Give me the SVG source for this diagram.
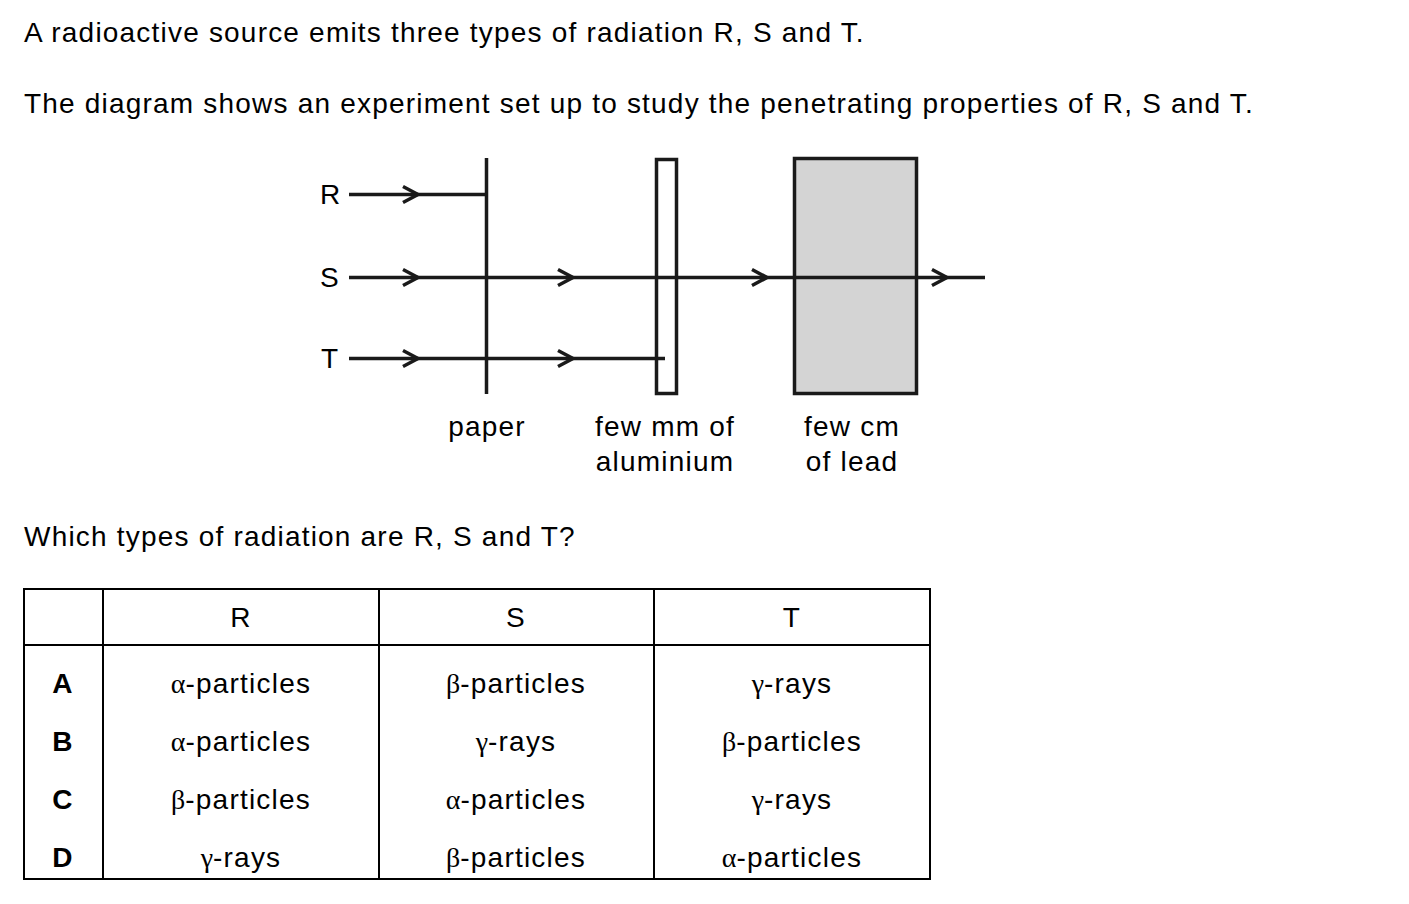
<svg xmlns="http://www.w3.org/2000/svg" width="1409" height="904" viewBox="0 0 1409 904">
<style>
text{font-family:"Liberation Sans",Arial,sans-serif;font-size:28px;fill:#000;letter-spacing:1.2px}
.c{text-anchor:middle}
.b{font-weight:bold}
.g{font-family:"Liberation Serif","Times New Roman",serif;letter-spacing:0}
.ln{stroke:#1a1a1a;stroke-width:3.5;fill:none}
.ch{stroke:#1a1a1a;stroke-width:3.5;fill:none;stroke-linejoin:miter}
.tb{stroke:#000;stroke-width:2;fill:none}
</style>
<rect width="1409" height="904" fill="#fff"/>
<g id="text-top">
<text x="24" y="42">A radioactive source emits three types of radiation R, S and T.</text>
<text x="24" y="113">The diagram shows an experiment set up to study the penetrating properties of R, S and T.</text>
<text x="24" y="546">Which types of radiation are R, S and T?</text>
</g>
<g id="labels-rst">
<text x="320" y="204">R</text>
<text x="320" y="287">S</text>
<text x="321" y="368">T</text>
</g>
<g id="paper">
<line class="ln" x1="486.5" y1="158" x2="486.5" y2="394"/>
<text class="c" x="487" y="436">paper</text>
</g>
<g id="aluminium">
<rect class="ln" x="656.5" y="159.5" width="20" height="234"/>
<text class="c" x="665" y="436">few mm of</text>
<text class="c" x="665" y="471">aluminium</text>
</g>
<g id="lead">
<rect x="794.5" y="158.5" width="122" height="235" fill="#d4d4d4" stroke="#1a1a1a" stroke-width="3.5"/>
<text class="c" x="852" y="436">few cm</text>
<text class="c" x="852" y="471">of lead</text>
</g>
<g id="connectors">
<line class="ln" x1="349" y1="194.5" x2="486" y2="194.5"/>
<line class="ln" x1="349" y1="277.5" x2="985" y2="277.5"/>
<line class="ln" x1="349" y1="358.5" x2="665" y2="358.5"/>
<path class="ch" d="M403 186.5 L418 194.5 L403 202.5"/>
<path class="ch" d="M403 269.5 L418 277.5 L403 285.5"/>
<path class="ch" d="M558 269.5 L573 277.5 L558 285.5"/>
<path class="ch" d="M752 269.5 L767 277.5 L752 285.5"/>
<path class="ch" d="M932 269.5 L947 277.5 L932 285.5"/>
<path class="ch" d="M403 350.5 L418 358.5 L403 366.5"/>
<path class="ch" d="M558 350.5 L573 358.5 L558 366.5"/>
</g>
<g id="table">
<rect class="tb" x="24" y="589" width="906" height="290"/>
<line class="tb" x1="24" y1="645" x2="930" y2="645"/>
<line class="tb" x1="103" y1="589" x2="103" y2="879"/>
<line class="tb" x1="379" y1="589" x2="379" y2="879"/>
<line class="tb" x1="654" y1="589" x2="654" y2="879"/>
<text class="c" x="241" y="627">R</text>
<text class="c" x="516" y="627">S</text>
<text class="c" x="792" y="627">T</text>
<text class="c b" x="63" y="693">A</text>
<text class="c b" x="63" y="751">B</text>
<text class="c b" x="63" y="809">C</text>
<text class="c b" x="63" y="867">D</text>
<text class="c" x="241" y="693"><tspan class="g">α</tspan>-particles</text>
<text class="c" x="516" y="693"><tspan class="g">β</tspan>-particles</text>
<text class="c" x="792" y="693"><tspan class="g">γ</tspan>-rays</text>
<text class="c" x="241" y="751"><tspan class="g">α</tspan>-particles</text>
<text class="c" x="516" y="751"><tspan class="g">γ</tspan>-rays</text>
<text class="c" x="792" y="751"><tspan class="g">β</tspan>-particles</text>
<text class="c" x="241" y="809"><tspan class="g">β</tspan>-particles</text>
<text class="c" x="516" y="809"><tspan class="g">α</tspan>-particles</text>
<text class="c" x="792" y="809"><tspan class="g">γ</tspan>-rays</text>
<text class="c" x="241" y="867"><tspan class="g">γ</tspan>-rays</text>
<text class="c" x="516" y="867"><tspan class="g">β</tspan>-particles</text>
<text class="c" x="792" y="867"><tspan class="g">α</tspan>-particles</text>
</g>
</svg>
